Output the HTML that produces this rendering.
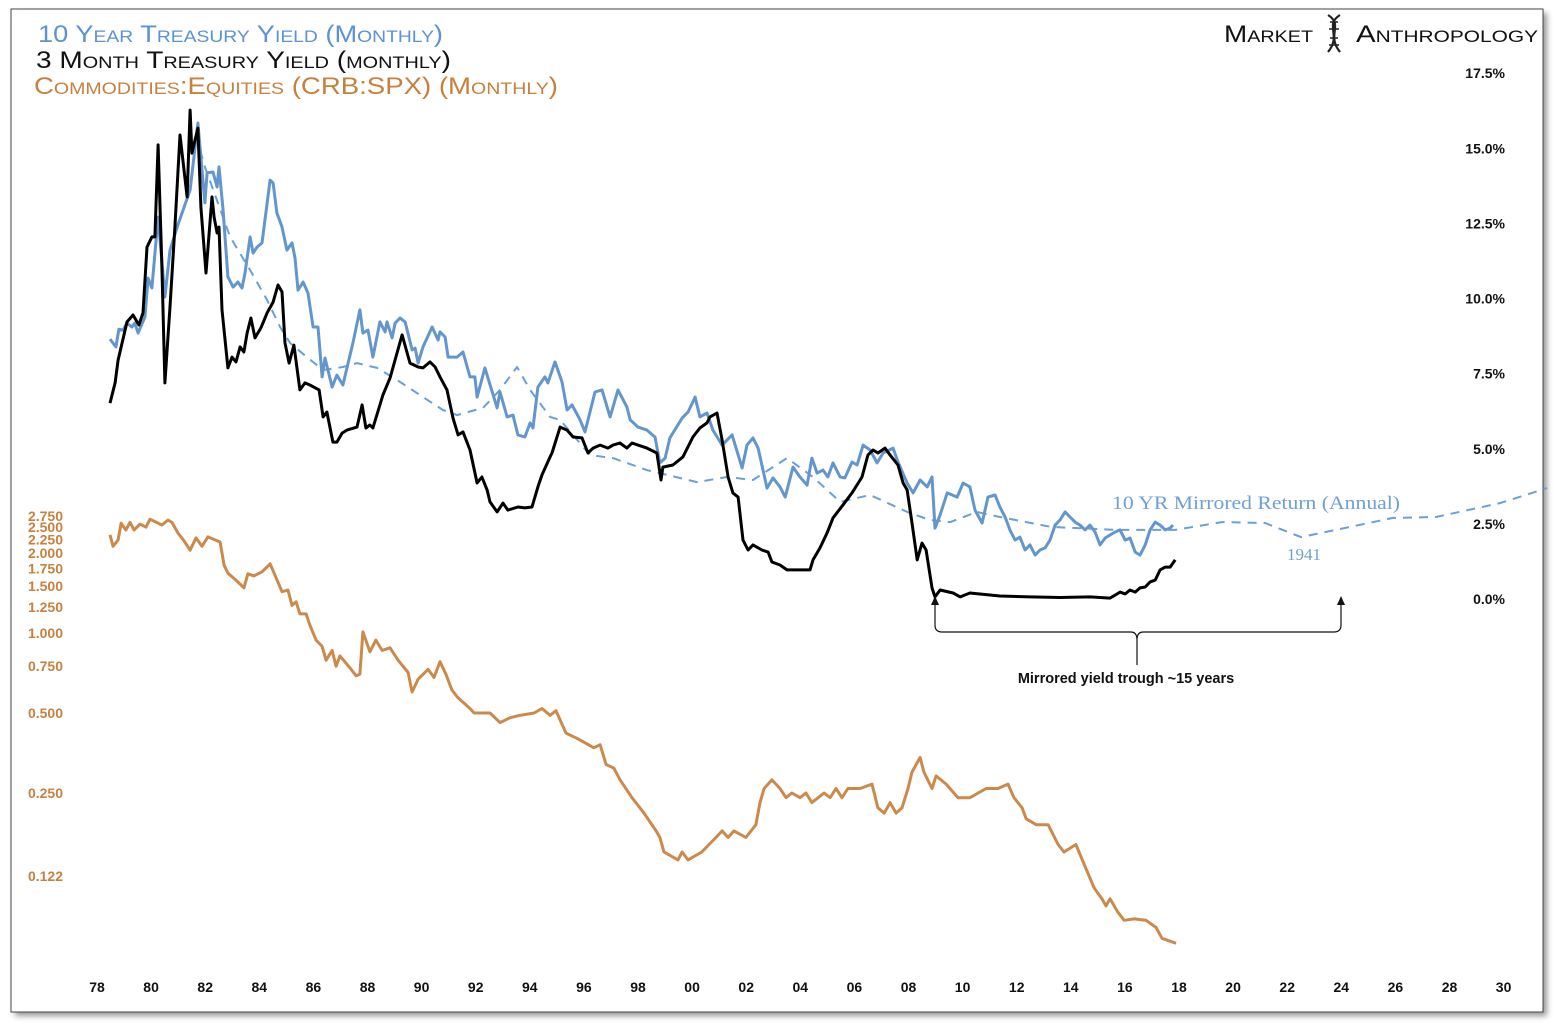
<!DOCTYPE html>
<html><head><meta charset="utf-8"><style>
html,body{margin:0;padding:0;background:#fff;}
svg{display:block;}
text{font-family:"Liberation Sans",sans-serif;}
</style></head><body>
<svg id="chart" width="1558" height="1025" viewBox="0 0 1558 1025" xmlns="http://www.w3.org/2000/svg">
<defs><filter id="sh" x="-5%" y="-5%" width="110%" height="110%"><feGaussianBlur stdDeviation="3"/></filter></defs>
<rect x="15" y="13" width="1532" height="1003" fill="#999" filter="url(#sh)"/>
<rect x="11" y="9" width="1532" height="1003" fill="#fff" stroke="#444" stroke-width="1"/>
<g style="font-variant:small-caps">
<text x="38" y="42" font-size="24" fill="#5b93d3" textLength="405" lengthAdjust="spacingAndGlyphs">10 Year Treasury Yield (Monthly)</text>
<text x="36" y="68" font-size="24" fill="#111" textLength="415" lengthAdjust="spacingAndGlyphs">3 Month Treasury Yield (monthly)</text>
<text x="34" y="94" font-size="24" fill="#c6813f" textLength="524" lengthAdjust="spacingAndGlyphs">Commodities:Equities (CRB:SPX) (Monthly)</text>
</g>
<g style="font-variant:small-caps">
<text x="1224" y="42" font-size="24" fill="#111" textLength="89" lengthAdjust="spacingAndGlyphs">Market</text>
<g stroke="#222" fill="none" stroke-width="2.2">
<path d="M1328 15 C1344 25,1326 35,1340 52"/><path d="M1340 15 C1324 25,1342 35,1328 52"/>
<path d="M1330 22h8M1329 29h10M1330 38h8M1329 45h10" stroke-width="1.5"/>
</g>
<text x="1356" y="42" font-size="24" fill="#111" textLength="182" lengthAdjust="spacingAndGlyphs">Anthropology</text>
</g>
<g id="axes"></g>
<g id="series"></g>
<g>
<text x="1112" y="509" font-family="Liberation Serif" font-size="19" fill="#6e9fd6" style="font-family:'Liberation Serif',serif" textLength="288" lengthAdjust="spacingAndGlyphs">10 YR Mirrored Return (Annual)</text>
<text x="1287" y="560" font-size="17" fill="#6e9fd6" style="font-family:'Liberation Serif',serif">1941</text>
<g stroke="#111" fill="none" stroke-width="1.2">
<path d="M935 603 V625 Q935 632 942 632 H1131 Q1137 632 1137 640 V665 M1137 640 Q1137 632 1143 632 H1334 Q1341 632 1341 625 V603"/>
</g>
<path d="M935 596 L931 605 L939 605 Z" fill="#111"/>
<path d="M1341 596 L1337 605 L1345 605 Z" fill="#111"/>
<text x="1126" y="683" font-size="14.5" font-weight="bold" fill="#111" text-anchor="middle">Mirrored yield trough ~15 years</text>
</g>
</svg>
<script>
const xTickLabels=["78","80","82","84","86","88","90","92","94","96","98","00","02","04","06","08","10","12","14","16","18","20","22","24","26","28","30"];
const xTickYears=[1978,1980,1982,1984,1986,1988,1990,1992,1994,1996,1998,2000,2002,2004,2006,2008,2010,2012,2014,2016,2018,2020,2022,2024,2026,2028,2030];
const rightTickValues=[17.5,15,12.5,10,7.5,5,2.5,0];
const rightTickLabels=["17.5%","15.0%","12.5%","10.0%","7.5%","5.0%","2.5%","0.0%"];
const leftTickValues=[2.75,2.5,2.25,2.0,1.75,1.5,1.25,1.0,0.75,0.5,0.25,0.122];
const leftTickLabels=["2.750","2.500","2.250","2.000","1.750","1.500","1.250","1.000","0.750","0.500","0.250","0.122"];

const tenYrYears=[1978.48,1978.70,1978.81,1978.96,1979.11,1979.29,1979.40,1979.52,1979.77,1979.89,1980.03,1980.26,1980.51,1980.70,1980.99,1981.44,1981.73,1981.99,1982.07,1982.29,1982.44,1982.51,1982.66,1982.84,1983.03,1983.21,1983.36,1983.47,1983.66,1983.77,1983.92,1984.10,1984.40,1984.51,1984.65,1984.84,1985.02,1985.21,1985.32,1985.43,1985.62,1985.80,1985.99,1986.17,1986.32,1986.43,1986.69,1986.87,1987.09,1987.46,1987.72,1987.83,1988.02,1988.20,1988.46,1988.65,1988.72,1988.91,1989.02,1989.20,1989.39,1989.65,1989.76,1989.87,1990.05,1990.39,1990.61,1990.68,1990.87,1990.98,1991.31,1991.53,1991.79,1991.97,1992.05,1992.34,1992.79,1992.90,1993.16,1993.38,1993.56,1993.82,1994.01,1994.12,1994.30,1994.56,1994.67,1994.93,1995.19,1995.38,1995.56,1995.86,1996.04,1996.41,1996.67,1996.97,1997.26,1997.59,1997.71,1998.00,1998.33,1998.63,1998.81,1999.00,1999.18,1999.63,1999.85,2000.11,2000.29,2000.55,2000.77,2001.11,2001.48,2001.85,2002.03,2002.25,2002.44,2002.77,2002.99,2003.25,2003.44,2003.73,2003.99,2004.25,2004.43,2004.62,2004.84,2005.02,2005.21,2005.47,2005.65,2005.91,2006.10,2006.32,2006.58,2006.84,2007.06,2007.43,2007.61,2007.95,2008.17,2008.43,2008.69,2008.87,2008.98,2009.17,2009.43,2009.80,2010.02,2010.27,2010.46,2010.72,2010.94,2011.20,2011.38,2011.57,2011.75,2011.94,2012.12,2012.31,2012.49,2012.68,2012.86,2013.05,2013.23,2013.42,2013.60,2013.79,2013.97,2014.16,2014.34,2014.53,2014.71,2014.90,2015.08,2015.27,2015.45,2015.64,2015.82,2016.01,2016.19,2016.38,2016.56,2016.75,2016.93,2017.12,2017.30,2017.49,2017.67,2017.78];
const tenYrValues=[8.65,8.39,8.98,8.95,9.18,9.05,9.18,8.85,9.38,10.68,10.35,12.71,10.05,11.61,12.45,13.61,15.84,13.18,14.18,14.21,13.71,14.38,12.94,10.72,10.38,10.55,10.35,10.85,12.05,11.51,11.71,11.85,13.94,13.84,12.85,12.38,11.61,11.85,11.35,10.28,10.55,10.18,9.05,9.05,7.39,8.02,7.05,7.45,7.12,8.52,9.62,8.85,8.95,8.05,9.22,8.89,9.22,8.69,9.18,9.35,9.22,8.29,8.35,7.85,8.39,9.05,8.62,8.89,8.72,8.05,8.05,8.22,7.39,7.39,6.72,7.69,6.36,6.89,6.06,6.12,5.46,5.39,5.86,5.69,7.05,7.39,7.19,7.89,7.22,6.29,6.46,5.96,5.56,6.89,6.96,6.06,6.96,6.39,5.96,5.72,5.62,5.39,4.53,4.69,5.36,6.02,6.22,6.72,6.06,6.19,5.62,5.12,5.46,4.36,5.12,5.36,5.02,3.69,4.03,3.73,3.39,4.39,4.06,3.79,4.69,4.19,4.29,4.06,4.53,4.06,4.03,4.56,4.46,5.12,4.96,4.53,4.86,5.02,4.56,3.86,3.53,3.96,3.73,4.06,2.36,2.80,3.53,3.39,3.86,3.73,2.96,2.53,3.39,3.46,3.06,2.73,2.30,1.96,2.06,1.63,1.80,1.46,1.63,1.70,1.96,2.46,2.63,2.90,2.73,2.56,2.46,2.30,2.46,2.23,1.80,2.03,2.13,2.23,2.30,1.96,2.03,1.56,1.46,1.80,2.30,2.56,2.46,2.30,2.36,2.46];

const threeMoYears=[1978.48,1978.67,1978.78,1979.11,1979.33,1979.55,1979.70,1979.85,1980.03,1980.14,1980.26,1980.40,1980.51,1980.70,1980.88,1981.07,1981.33,1981.44,1981.51,1981.73,1981.84,1982.03,1982.25,1982.33,1982.44,1982.51,1982.62,1982.84,1982.99,1983.14,1983.29,1983.43,1983.55,1983.69,1983.84,1984.06,1984.29,1984.51,1984.69,1984.84,1984.95,1985.10,1985.28,1985.50,1985.69,1985.87,1986.21,1986.36,1986.50,1986.72,1986.87,1987.06,1987.24,1987.61,1987.80,1987.94,1988.09,1988.20,1988.57,1988.83,1989.28,1989.57,1989.87,1990.05,1990.31,1990.50,1990.68,1990.94,1991.16,1991.35,1991.53,1991.79,1992.05,1992.23,1992.42,1992.53,1992.79,1993.01,1993.19,1993.56,1993.82,1994.08,1994.30,1994.45,1994.75,1994.82,1995.12,1995.38,1995.60,1995.93,1996.15,1996.34,1996.60,1996.89,1997.08,1997.33,1997.59,1997.78,1998.00,1998.33,1998.70,1998.85,1998.92,1999.29,1999.66,2000.03,2000.29,2000.55,2000.66,2000.92,2001.11,2001.33,2001.51,2001.70,2001.88,2002.07,2002.25,2002.58,2002.81,2002.95,2003.25,2003.51,2004.36,2004.47,2004.73,2004.99,2005.21,2005.58,2005.91,2006.28,2006.50,2006.69,2006.87,2007.13,2007.32,2007.61,2007.80,2007.95,2008.13,2008.32,2008.50,2008.65,2008.87,2008.98,2009.17,2009.65,2009.91,2010.27,2011.38,2012.49,2013.60,2014.71,2015.45,2015.64,2015.82,2016.01,2016.19,2016.38,2016.56,2016.75,2016.93,2017.12,2017.30,2017.49,2017.67,2017.86];
const threeMoValues=[6.52,7.19,7.95,9.22,9.45,9.12,9.52,11.71,12.05,12.05,15.11,11.05,7.19,9.72,12.38,15.44,13.38,16.27,14.84,15.67,13.04,10.85,13.38,12.71,12.18,12.38,9.62,7.69,8.05,7.89,8.39,8.22,8.85,9.35,8.69,9.02,9.52,9.88,10.45,10.22,8.52,7.85,8.45,6.96,7.19,7.12,6.96,6.06,6.22,5.22,5.22,5.52,5.62,5.72,6.46,5.69,5.79,5.69,6.79,7.35,8.79,7.85,7.72,7.69,7.89,7.72,7.39,6.96,6.02,5.46,5.56,4.96,3.86,4.06,3.63,3.23,2.90,3.19,2.96,3.06,3.03,3.06,3.73,4.13,4.73,4.86,5.72,5.62,5.39,5.36,4.86,5.02,5.12,5.02,5.12,5.19,5.02,5.19,5.12,5.02,4.86,3.96,4.39,4.46,4.73,5.39,5.69,5.86,6.06,6.19,5.29,4.06,3.53,3.39,1.96,1.63,1.80,1.63,1.56,1.23,1.13,0.97,0.97,1.30,1.70,2.20,2.70,3.13,3.53,4.06,4.79,4.96,4.86,5.02,4.79,4.46,3.86,3.63,2.53,1.30,1.86,1.63,0.37,0.07,0.30,0.20,0.07,0.20,0.10,0.07,0.05,0.07,0.03,0.13,0.23,0.17,0.30,0.23,0.37,0.40,0.57,0.63,0.97,1.06,1.06,1.30];

const mirrorYears=[1981.81,1981.99,1982.47,1982.92,1983.66,1984.29,1984.77,1985.14,1985.76,1986.36,1987.09,1987.61,1988.35,1989.09,1990.05,1990.79,1991.31,1992.27,1992.90,1993.53,1994.01,1994.75,1995.12,1996.23,1997.08,1998.33,2000.18,2001.29,2002.25,2003.51,2004.47,2005.47,2006.58,2007.95,2008.80,2009.54,2010.53,2011.38,2013.27,2015.64,2017.86,2019.59,2021.18,2022.51,2024.32,2025.91,2027.50,2029.87,2031.61];
const mirrorValues=[14.94,14.38,13.18,12.05,10.95,9.95,9.05,8.52,8.05,7.62,7.72,7.85,7.69,7.29,6.72,6.29,6.12,6.36,6.96,7.72,6.96,6.06,5.96,4.79,4.69,4.29,3.89,4.06,3.96,4.69,4.06,3.23,3.46,2.90,2.63,2.56,2.90,2.73,2.40,2.30,2.30,2.56,2.53,2.06,2.40,2.70,2.73,3.19,3.69];

const crbYears=[1978.48,1978.59,1978.78,1978.89,1979.07,1979.22,1979.37,1979.59,1979.81,1979.96,1980.40,1980.62,1980.77,1980.99,1981.22,1981.44,1981.66,1981.88,1982.10,1982.55,1982.70,1982.84,1983.14,1983.43,1983.58,1983.80,1984.10,1984.40,1984.58,1984.84,1985.06,1985.21,1985.36,1985.50,1985.73,1985.87,1986.10,1986.32,1986.47,1986.69,1986.84,1986.98,1987.35,1987.58,1987.72,1987.83,1988.09,1988.31,1988.54,1988.83,1989.13,1989.50,1989.65,1989.87,1990.24,1990.46,1990.68,1990.90,1991.12,1991.35,1991.79,1991.94,1992.53,1992.90,1993.27,1993.64,1994.16,1994.45,1994.75,1994.97,1995.34,1995.78,1996.37,1996.60,1996.82,1997.11,1997.34,1997.78,1998.22,1998.67,1998.81,1998.96,1999.48,1999.63,1999.85,2000.36,2000.88,2001.11,2001.33,2001.55,2001.99,2002.36,2002.51,2002.66,2002.95,2003.25,2003.47,2003.69,2003.99,2004.21,2004.43,2004.88,2005.10,2005.32,2005.54,2005.76,2006.21,2006.65,2006.87,2007.10,2007.32,2007.54,2007.76,2007.98,2008.13,2008.43,2008.57,2008.87,2009.02,2009.39,2009.83,2010.27,2010.87,2011.31,2011.68,2011.90,2012.20,2012.35,2012.72,2013.16,2013.53,2013.75,2014.19,2014.56,2014.86,2015.15,2015.30,2015.45,2015.74,2015.97,2016.34,2016.78,2017.15,2017.37,2017.89];
const crbValues=[2.34,2.12,2.24,2.59,2.44,2.61,2.44,2.57,2.50,2.68,2.55,2.66,2.61,2.38,2.22,2.05,2.28,2.12,2.30,2.20,1.80,1.68,1.58,1.48,1.67,1.64,1.70,1.82,1.65,1.43,1.45,1.27,1.31,1.18,1.18,1.07,0.94,0.89,0.79,0.86,0.75,0.82,0.74,0.69,0.70,1.01,0.85,0.94,0.86,0.88,0.79,0.71,0.60,0.67,0.73,0.68,0.78,0.70,0.61,0.57,0.52,0.50,0.50,0.46,0.48,0.49,0.50,0.52,0.49,0.51,0.42,0.40,0.37,0.38,0.32,0.31,0.28,0.24,0.21,0.18,0.17,0.15,0.14,0.15,0.14,0.15,0.17,0.18,0.17,0.18,0.17,0.19,0.23,0.26,0.28,0.26,0.24,0.25,0.24,0.25,0.23,0.25,0.24,0.26,0.24,0.26,0.26,0.27,0.22,0.21,0.23,0.21,0.22,0.26,0.30,0.34,0.30,0.26,0.29,0.27,0.24,0.24,0.26,0.26,0.27,0.24,0.22,0.20,0.19,0.19,0.16,0.15,0.16,0.13,0.11,0.10,0.094,0.10,0.089,0.083,0.084,0.083,0.078,0.071,0.068];

const NS="http://www.w3.org/2000/svg";
function xOf(yr){return 97+(yr-1978)*27.05;}
function yRight(v){return 599-v*30.05;}
function yLeft(v){return 633-80*Math.log2(v);}
const axes=document.getElementById('axes');
const series=document.getElementById('series');
function mkText(parent,x,y,str,fill,anchor){
  const t=document.createElementNS(NS,'text');
  t.setAttribute('x',x);t.setAttribute('y',y);
  t.setAttribute('font-size','14');t.setAttribute('font-weight','bold');
  t.setAttribute('fill',fill);t.setAttribute('text-anchor',anchor);
  t.textContent=str;parent.appendChild(t);return t;
}
xTickYears.forEach((yr,i)=>{
  const t=mkText(axes,xOf(yr),992,xTickLabels[i],'#111','middle');
  
  
});
rightTickValues.forEach((v,i)=>{
  const t=mkText(axes,1505,yRight(v)+5,rightTickLabels[i],'#111','end');
  
  
});
leftTickValues.forEach((v,i)=>{
  const t=mkText(axes,63,yLeft(v)+5,leftTickLabels[i],'#c6813f','end');
  
  
});
function line(xs,vs,yf,color,w,dash,name){
  const p=document.createElementNS(NS,'path');
  let d='';
  xs.forEach((yr,i)=>{d+=(i?'L':'M')+xOf(yr).toFixed(1)+' '+yf(vs[i]).toFixed(1);});
  p.setAttribute('d',d);p.setAttribute('fill','none');
  p.setAttribute('stroke',color);p.setAttribute('stroke-width',w);
  p.setAttribute('stroke-linejoin','round');
  if(dash)p.setAttribute('stroke-dasharray',dash);
  
  
  series.appendChild(p);
}
line(crbYears,crbValues,yLeft,'#cb8a4c',3,null,'crb-spx-line');
line(mirrorYears,mirrorValues,yRight,'#6a9fd8',2,'9,7','mirrored-10yr-dashed-line');
line(tenYrYears,tenYrValues,yRight,'#6296cc',3,null,'ten-year-yield-line');
line(threeMoYears,threeMoValues,yRight,'#000',3,null,'three-month-yield-line');
</script>
</body></html>
